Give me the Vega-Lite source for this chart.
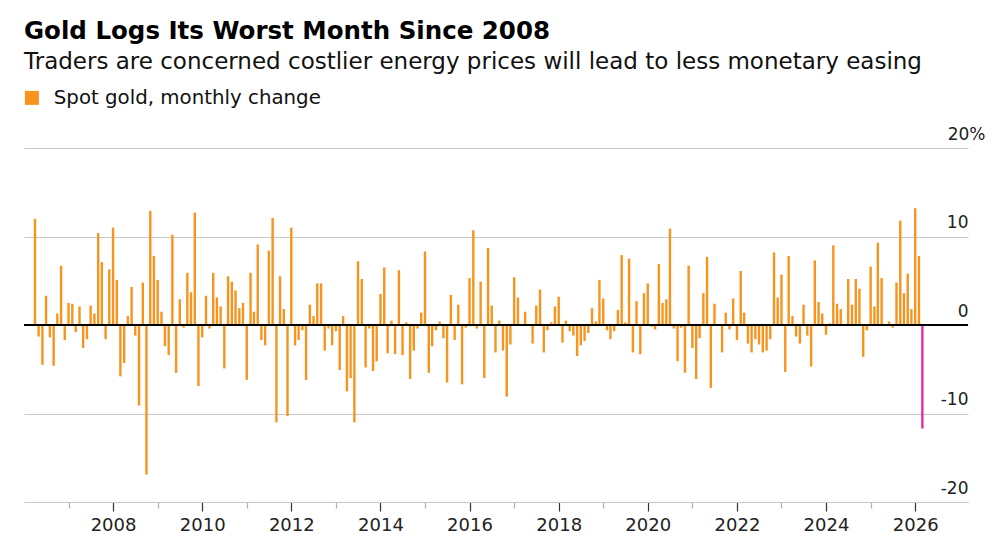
{
  "$schema": "https://vega.github.io/schema/vega-lite/v6.json",
  "width": 944,
  "height": 354,
  "autosize": {"type": "none"},
  "padding": {"left": 24, "top": 148, "right": 32, "bottom": 43},
  "background": "white",
  "title": {
    "text": "Gold Logs Its Worst Month Since 2008",
    "subtitle": "Traders are concerned costlier energy prices will lead to less monetary easing",
    "anchor": "start",
    "frame": "group",
    "offset": 13,
    "font": "DejaVu Sans",
    "fontSize": 24.5,
    "fontWeight": "bold",
    "color": "#000000",
    "subtitleFont": "DejaVu Sans",
    "subtitleFontSize": 23,
    "subtitleColor": "#111111",
    "subtitlePadding": 7
  },
  "data": {
    "values": [
      {"date": "2006-04-01", "v": 12.0}, {"date": "2006-05-01", "v": -1.3}, {"date": "2006-06-01", "v": -4.5}, {"date": "2006-07-01", "v": 3.3},
      {"date": "2006-08-01", "v": -1.4}, {"date": "2006-09-01", "v": -4.6}, {"date": "2006-10-01", "v": 1.3}, {"date": "2006-11-01", "v": 6.7},
      {"date": "2006-12-01", "v": -1.7}, {"date": "2007-01-01", "v": 2.5}, {"date": "2007-02-01", "v": 2.4}, {"date": "2007-03-01", "v": -0.8},
      {"date": "2007-04-01", "v": 2.1}, {"date": "2007-05-01", "v": -2.6}, {"date": "2007-06-01", "v": -1.6}, {"date": "2007-07-01", "v": 2.2},
      {"date": "2007-08-01", "v": 1.3}, {"date": "2007-09-01", "v": 10.4}, {"date": "2007-10-01", "v": 7.1}, {"date": "2007-11-01", "v": -1.6},
      {"date": "2007-12-01", "v": 6.3}, {"date": "2008-01-01", "v": 11.0}, {"date": "2008-02-01", "v": 5.1}, {"date": "2008-03-01", "v": -5.8},
      {"date": "2008-04-01", "v": -4.3}, {"date": "2008-05-01", "v": 1.0}, {"date": "2008-06-01", "v": 4.3}, {"date": "2008-07-01", "v": -1.2},
      {"date": "2008-08-01", "v": -9.1}, {"date": "2008-09-01", "v": 4.8}, {"date": "2008-10-01", "v": -16.9}, {"date": "2008-11-01", "v": 12.9},
      {"date": "2008-12-01", "v": 7.8}, {"date": "2009-01-01", "v": 5.1}, {"date": "2009-02-01", "v": 1.5}, {"date": "2009-03-01", "v": -2.4},
      {"date": "2009-04-01", "v": -3.4}, {"date": "2009-05-01", "v": 10.2}, {"date": "2009-06-01", "v": -5.4}, {"date": "2009-07-01", "v": 2.9},
      {"date": "2009-08-01", "v": -0.3}, {"date": "2009-09-01", "v": 5.9}, {"date": "2009-10-01", "v": 3.7}, {"date": "2009-11-01", "v": 12.7},
      {"date": "2009-12-01", "v": -6.9}, {"date": "2010-01-01", "v": -1.4}, {"date": "2010-02-01", "v": 3.3}, {"date": "2010-03-01", "v": -0.4},
      {"date": "2010-04-01", "v": 5.9}, {"date": "2010-05-01", "v": 3.1}, {"date": "2010-06-01", "v": 2.1}, {"date": "2010-07-01", "v": -4.9},
      {"date": "2010-08-01", "v": 5.5}, {"date": "2010-09-01", "v": 4.9}, {"date": "2010-10-01", "v": 3.9}, {"date": "2010-11-01", "v": 1.9},
      {"date": "2010-12-01", "v": 2.5}, {"date": "2011-01-01", "v": -6.2}, {"date": "2011-02-01", "v": 5.9}, {"date": "2011-03-01", "v": 1.5},
      {"date": "2011-04-01", "v": 9.1}, {"date": "2011-05-01", "v": -1.7}, {"date": "2011-06-01", "v": -2.3}, {"date": "2011-07-01", "v": 8.4},
      {"date": "2011-08-01", "v": 12.1}, {"date": "2011-09-01", "v": -11.0}, {"date": "2011-10-01", "v": 5.5}, {"date": "2011-11-01", "v": 1.8},
      {"date": "2011-12-01", "v": -10.3}, {"date": "2012-01-01", "v": 11.0}, {"date": "2012-02-01", "v": -2.3}, {"date": "2012-03-01", "v": -1.7},
      {"date": "2012-04-01", "v": -0.6}, {"date": "2012-05-01", "v": -6.2}, {"date": "2012-06-01", "v": 2.3}, {"date": "2012-07-01", "v": 1.0},
      {"date": "2012-08-01", "v": 4.7}, {"date": "2012-09-01", "v": 4.7}, {"date": "2012-10-01", "v": -2.9}, {"date": "2012-11-01", "v": -0.4},
      {"date": "2012-12-01", "v": -2.3}, {"date": "2013-01-01", "v": -0.7}, {"date": "2013-02-01", "v": -5.1}, {"date": "2013-03-01", "v": 1.0},
      {"date": "2013-04-01", "v": -7.5}, {"date": "2013-05-01", "v": -6.0}, {"date": "2013-06-01", "v": -11.0}, {"date": "2013-07-01", "v": 7.2},
      {"date": "2013-08-01", "v": 5.2}, {"date": "2013-09-01", "v": -4.8}, {"date": "2013-10-01", "v": -0.4}, {"date": "2013-11-01", "v": -5.2},
      {"date": "2013-12-01", "v": -4.1}, {"date": "2014-01-01", "v": 3.5}, {"date": "2014-02-01", "v": 6.5}, {"date": "2014-03-01", "v": -3.2},
      {"date": "2014-04-01", "v": 0.5}, {"date": "2014-05-01", "v": -3.3}, {"date": "2014-06-01", "v": 6.2}, {"date": "2014-07-01", "v": -3.4},
      {"date": "2014-08-01", "v": 0.3}, {"date": "2014-09-01", "v": -6.1}, {"date": "2014-10-01", "v": -2.9}, {"date": "2014-11-01", "v": -0.4},
      {"date": "2014-12-01", "v": 1.4}, {"date": "2015-01-01", "v": 8.3}, {"date": "2015-02-01", "v": -5.4}, {"date": "2015-03-01", "v": -2.4},
      {"date": "2015-04-01", "v": -0.6}, {"date": "2015-05-01", "v": 0.4}, {"date": "2015-06-01", "v": -1.5}, {"date": "2015-07-01", "v": -6.5},
      {"date": "2015-08-01", "v": 3.4}, {"date": "2015-09-01", "v": -1.7}, {"date": "2015-10-01", "v": 2.3}, {"date": "2015-11-01", "v": -6.7},
      {"date": "2015-12-01", "v": -0.3}, {"date": "2016-01-01", "v": 5.3}, {"date": "2016-02-01", "v": 10.7}, {"date": "2016-03-01", "v": -0.4},
      {"date": "2016-04-01", "v": 4.9}, {"date": "2016-05-01", "v": -6.0}, {"date": "2016-06-01", "v": 8.7}, {"date": "2016-07-01", "v": 2.2},
      {"date": "2016-08-01", "v": -3.1}, {"date": "2016-09-01", "v": 0.5}, {"date": "2016-10-01", "v": -2.9}, {"date": "2016-11-01", "v": -8.1},
      {"date": "2016-12-01", "v": -2.2}, {"date": "2017-01-01", "v": 5.4}, {"date": "2017-02-01", "v": 3.1}, {"date": "2017-03-01", "v": 0.1},
      {"date": "2017-04-01", "v": 1.5}, {"date": "2017-05-01", "v": 0.1}, {"date": "2017-06-01", "v": -2.1}, {"date": "2017-07-01", "v": 2.2},
      {"date": "2017-08-01", "v": 4.0}, {"date": "2017-09-01", "v": -3.1}, {"date": "2017-10-01", "v": -0.6}, {"date": "2017-11-01", "v": 0.3},
      {"date": "2017-12-01", "v": 2.1}, {"date": "2018-01-01", "v": 3.2}, {"date": "2018-02-01", "v": -2.0}, {"date": "2018-03-01", "v": 0.5},
      {"date": "2018-04-01", "v": -0.7}, {"date": "2018-05-01", "v": -1.2}, {"date": "2018-06-01", "v": -3.5}, {"date": "2018-07-01", "v": -2.3},
      {"date": "2018-08-01", "v": -1.8}, {"date": "2018-09-01", "v": -0.9}, {"date": "2018-10-01", "v": 1.9}, {"date": "2018-11-01", "v": 0.4},
      {"date": "2018-12-01", "v": 5.1}, {"date": "2019-01-01", "v": 3.0}, {"date": "2019-02-01", "v": -0.6}, {"date": "2019-03-01", "v": -1.6},
      {"date": "2019-04-01", "v": -0.7}, {"date": "2019-05-01", "v": 1.7}, {"date": "2019-06-01", "v": 7.9}, {"date": "2019-07-01", "v": 0.3},
      {"date": "2019-08-01", "v": 7.5}, {"date": "2019-09-01", "v": -3.1}, {"date": "2019-10-01", "v": 2.7}, {"date": "2019-11-01", "v": -3.3},
      {"date": "2019-12-01", "v": 3.6}, {"date": "2020-01-01", "v": 4.7}, {"date": "2020-02-01", "v": -0.2}, {"date": "2020-03-01", "v": -0.5},
      {"date": "2020-04-01", "v": 6.9}, {"date": "2020-05-01", "v": 2.5}, {"date": "2020-06-01", "v": 2.9}, {"date": "2020-07-01", "v": 10.9},
      {"date": "2020-08-01", "v": -0.4}, {"date": "2020-09-01", "v": -4.1}, {"date": "2020-10-01", "v": -0.3}, {"date": "2020-11-01", "v": -5.4},
      {"date": "2020-12-01", "v": 6.7}, {"date": "2021-01-01", "v": -2.6}, {"date": "2021-02-01", "v": -6.1}, {"date": "2021-03-01", "v": -1.5},
      {"date": "2021-04-01", "v": 3.6}, {"date": "2021-05-01", "v": 7.7}, {"date": "2021-06-01", "v": -7.1}, {"date": "2021-07-01", "v": 2.4},
      {"date": "2021-08-01", "v": -0.1}, {"date": "2021-09-01", "v": -3.1}, {"date": "2021-10-01", "v": 1.4}, {"date": "2021-11-01", "v": -0.5},
      {"date": "2021-12-01", "v": 3.0}, {"date": "2022-01-01", "v": -1.7}, {"date": "2022-02-01", "v": 6.1}, {"date": "2022-03-01", "v": 1.4},
      {"date": "2022-04-01", "v": -2.1}, {"date": "2022-05-01", "v": -3.1}, {"date": "2022-06-01", "v": -1.6}, {"date": "2022-07-01", "v": -2.2},
      {"date": "2022-08-01", "v": -3.1}, {"date": "2022-09-01", "v": -2.9}, {"date": "2022-10-01", "v": -1.6}, {"date": "2022-11-01", "v": 8.2},
      {"date": "2022-12-01", "v": 3.1}, {"date": "2023-01-01", "v": 5.7}, {"date": "2023-02-01", "v": -5.3}, {"date": "2023-03-01", "v": 7.8},
      {"date": "2023-04-01", "v": 1.0}, {"date": "2023-05-01", "v": -1.3}, {"date": "2023-06-01", "v": -2.1}, {"date": "2023-07-01", "v": 2.3},
      {"date": "2023-08-01", "v": -1.2}, {"date": "2023-09-01", "v": -4.7}, {"date": "2023-10-01", "v": 7.3}, {"date": "2023-11-01", "v": 2.6},
      {"date": "2023-12-01", "v": 1.3}, {"date": "2024-01-01", "v": -1.1}, {"date": "2024-02-01", "v": 0.2}, {"date": "2024-03-01", "v": 9.0},
      {"date": "2024-04-01", "v": 2.4}, {"date": "2024-05-01", "v": 1.8}, {"date": "2024-06-01", "v": 0.1}, {"date": "2024-07-01", "v": 5.2},
      {"date": "2024-08-01", "v": 2.3}, {"date": "2024-09-01", "v": 5.2}, {"date": "2024-10-01", "v": 4.1}, {"date": "2024-11-01", "v": -3.6},
      {"date": "2024-12-01", "v": -0.6}, {"date": "2025-01-01", "v": 6.6}, {"date": "2025-02-01", "v": 2.1}, {"date": "2025-03-01", "v": 9.3},
      {"date": "2025-04-01", "v": 5.3}, {"date": "2025-05-01", "v": 0.0}, {"date": "2025-06-01", "v": 0.4}, {"date": "2025-07-01", "v": -0.3},
      {"date": "2025-08-01", "v": 4.8}, {"date": "2025-09-01", "v": 11.8}, {"date": "2025-10-01", "v": 3.6}, {"date": "2025-11-01", "v": 5.8},
      {"date": "2025-12-01", "v": 1.8}, {"date": "2026-01-01", "v": 13.2}, {"date": "2026-02-01", "v": 7.8}, {"date": "2026-03-01", "v": -11.7}
    ]
  },
  "layer": [
    {
      "mark": {"type": "bar", "width": 2.4},
      "encoding": {
        "x": {
          "field": "date",
          "type": "temporal",
          "scale": {"type": "utc", "padding": 0, "nice": false, "domain": [{"year": 2006, "month": 1, "date": 1, "utc": true}, {"year": 2027, "month": 3, "date": 10, "utc": true}]},
          "axis": {
            "title": null,
            "grid": false,
            "domain": true,
            "domainColor": "#c8c8c8",
            "domainWidth": 1.2,
            "values": [
              {"year": 2007, "utc": true}, {"year": 2008, "utc": true}, {"year": 2009, "utc": true}, {"year": 2010, "utc": true},
              {"year": 2011, "utc": true}, {"year": 2012, "utc": true}, {"year": 2013, "utc": true}, {"year": 2014, "utc": true},
              {"year": 2015, "utc": true}, {"year": 2016, "utc": true}, {"year": 2017, "utc": true}, {"year": 2018, "utc": true},
              {"year": 2019, "utc": true}, {"year": 2020, "utc": true}, {"year": 2021, "utc": true}, {"year": 2022, "utc": true},
              {"year": 2023, "utc": true}, {"year": 2024, "utc": true}, {"year": 2025, "utc": true}, {"year": 2026, "utc": true}
            ],
            "ticks": true,
            "tickColor": {"condition": {"test": "utcyear(datum.value) % 2 == 0", "value": "#333333"}, "value": "#b0b0b0"},
            "tickWidth": 1.2,
            "tickSize": {"condition": {"test": "utcyear(datum.value) % 2 == 0", "value": 9}, "value": 6},
            "labelExpr": "utcyear(datum.value) % 2 == 0 ? utcFormat(datum.value, '%Y') : ''",
            "labelFont": "DejaVu Sans",
            "labelFontSize": 18,
            "labelColor": "#222222",
            "labelPadding": 5,
            "labelFlush": false,
            "labelOverlap": false
          }
        },
        "y": {
          "field": "v",
          "type": "quantitative",
          "scale": {"domain": [-20, 20], "padding": 0, "nice": false},
          "axis": {
            "orient": "right",
            "title": null,
            "values": [-20, -10, 0, 10, 20],
            "domain": false,
            "ticks": false,
            "grid": true,
            "gridColor": "#c8c8c8",
            "gridWidth": 1.2,
            "labelAlign": "right",
            "labelBaseline": "alphabetic",
            "labelOffset": -9,
            "labelPadding": {"condition": {"test": "datum.value == 20", "value": 17}, "value": 0},
            "labelExpr": "datum.value == 20 ? '20%' : '' + datum.value",
            "labelFont": "DejaVu Sans",
            "labelFontSize": 17,
            "labelColor": "#222222",
            "labelOverlap": false
          }
        },
        "color": {
          "condition": {"test": "utcyear(datum.date) == 2026 && utcmonth(datum.date) == 2", "value": "#E0309A"},
          "datum": "Spot gold, monthly change",
          "type": "nominal",
          "scale": {"range": ["#F7941E"]},
          "legend": {
            "orient": "none",
            "legendX": -2,
            "legendY": -60,
            "title": null,
            "padding": 0,
            "symbolType": "square",
            "symbolSize": 196,
            "symbolStrokeWidth": 0,
            "labelFont": "DejaVu Sans",
            "labelFontSize": 19.8,
            "labelColor": "#111111",
            "labelOffset": 12,
            "labelLimit": 500
          }
        }
      }
    },
    {
      "mark": {"type": "rule", "color": "#000000", "strokeWidth": 1.6},
      "encoding": {"y": {"datum": 0}}
    }
  ],
  "config": {"view": {"stroke": null}, "font": "DejaVu Sans"}
}
